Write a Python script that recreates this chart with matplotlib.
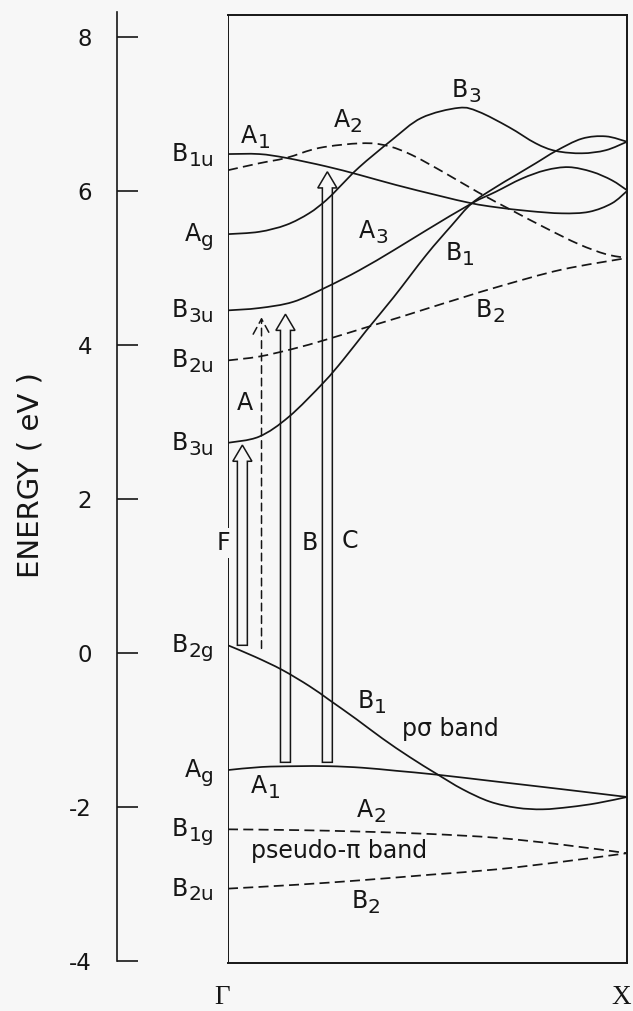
import numpy as np
import matplotlib
matplotlib.use("Agg")
import matplotlib.pyplot as plt
from matplotlib.path import Path
from matplotlib.patches import PathPatch, FancyArrow

plt.rcParams["font.family"] = ["DejaVu Sans"]
plt.rcParams["axes.unicode_minus"] = False
plt.rcParams["lines.scale_dashes"] = False

BG = "#f7f7f7"
INK = "#161616"

# ---------------- band data: k from Gamma (0) to X (1), energy in eV ----------------
# upper (conduction) bands
a1_up_k = [0.0, 0.078, 0.146, 0.246, 0.329, 0.42, 0.528, 0.611, 0.671, 0.754, 0.837, 0.905, 0.962, 1.0]
a1_up_e = [6.48, 6.48, 6.43, 6.32, 6.21, 6.08, 5.94, 5.84, 5.79, 5.74, 5.71, 5.73, 5.84, 6.00]

a2_up_k = [0.0, 0.078, 0.146, 0.229, 0.334, 0.397, 0.46, 0.545, 0.628, 0.711, 0.796, 0.879, 0.947, 1.0]
a2_up_e = [6.27, 6.36, 6.43, 6.56, 6.62, 6.59, 6.47, 6.23, 5.98, 5.75, 5.52, 5.31, 5.18, 5.13]

b3_up_k = [0.0, 0.078, 0.146, 0.203, 0.246, 0.279, 0.329, 0.41, 0.485, 0.578, 0.628, 0.704, 0.771, 0.822, 0.887, 0.947, 1.0]
b3_up_e = [5.44, 5.47, 5.56, 5.71, 5.88, 6.05, 6.31, 6.66, 6.95, 7.08, 7.03, 6.83, 6.62, 6.52, 6.49, 6.53, 6.64]

a3_up_k = [0.0, 0.078, 0.163, 0.246, 0.329, 0.415, 0.497, 0.611, 0.671, 0.736, 0.796, 0.854, 0.912, 0.962, 1.0]
a3_up_e = [4.45, 4.48, 4.56, 4.75, 4.97, 5.23, 5.49, 5.84, 5.99, 6.16, 6.27, 6.31, 6.25, 6.14, 6.01]

b1_up_k = [0.0, 0.078, 0.153, 0.239, 0.289, 0.347, 0.415, 0.497, 0.56, 0.611, 0.671, 0.716, 0.771, 0.822, 0.887, 0.947, 1.0]
b1_up_e = [2.73, 2.81, 3.07, 3.51, 3.81, 4.19, 4.62, 5.17, 5.55, 5.84, 6.05, 6.19, 6.36, 6.52, 6.68, 6.71, 6.64]

b2_up_k = [0.0, 0.078, 0.163, 0.246, 0.347, 0.43, 0.497, 0.59, 0.686, 0.837, 1.0]
b2_up_e = [3.80, 3.85, 3.95, 4.07, 4.23, 4.36, 4.47, 4.62, 4.77, 4.98, 5.13]

# lower (valence) bands
b1_sig_k = [0.0, 0.068, 0.136, 0.204, 0.254, 0.322, 0.387, 0.455, 0.523, 0.588, 0.656, 0.724, 0.789, 0.857, 0.925, 1.0]
b1_sig_e = [0.10, -0.05, -0.22, -0.43, -0.61, -0.86, -1.11, -1.35, -1.57, -1.77, -1.93, -2.01, -2.03, -2.00, -1.95, -1.87]

a1_sig_k = [0.0, 0.085, 0.171, 0.254, 0.337, 0.422, 0.523, 0.673, 0.839, 1.0]
a1_sig_e = [-1.52, -1.48, -1.47, -1.47, -1.49, -1.53, -1.58, -1.67, -1.77, -1.87]

a2_pi_k = [0.0, 0.171, 0.337, 0.505, 0.673, 0.839, 1.0]
a2_pi_e = [-2.29, -2.30, -2.32, -2.35, -2.40, -2.49, -2.60]

b2_pi_k = [0.0, 0.171, 0.337, 0.505, 0.673, 0.839, 1.0]
b2_pi_e = [-3.06, -3.01, -2.95, -2.88, -2.81, -2.71, -2.60]

# optical transitions at Gamma
transition_names = ["F", "A", "B", "C"]
transition_k = [0.036, 0.084, 0.144, 0.249]
transition_from = [0.10, 0.06, -1.42, -1.42]
transition_to = [2.70, 4.36, 4.40, 6.25]
transition_hollow = [True, False, True, True]

energy_ticks = [-4, -2, 0, 2, 4, 6, 8]
kpoint_names = ["Γ", "X"]
kpoint_pos = [0.0, 1.0]

# (k, E, dashed, symmetry label of the level at Gamma or None)
bands = [
    (a1_up_k, a1_up_e, False, "B1u"),
    (a2_up_k, a2_up_e, True, None),
    (b3_up_k, b3_up_e, False, "Ag"),
    (a3_up_k, a3_up_e, False, "B3u"),
    (b2_up_k, b2_up_e, True, "B2u"),
    (b1_up_k, b1_up_e, False, "B3u"),
    (b1_sig_k, b1_sig_e, False, "B2g"),
    (a1_sig_k, a1_sig_e, False, "Ag"),
    (a2_pi_k, a2_pi_e, True, "B1g"),
    (b2_pi_k, b2_pi_e, True, "B2u"),
]


def smooth_path(k, e):
    """Cubic Bezier path passing through every (k, E) point (Catmull-Rom tangents)."""
    pts = np.column_stack([k, e]).astype(float)
    n = len(pts)
    verts = [pts[0]]
    codes = [Path.MOVETO]
    for i in range(n - 1):
        p0 = pts[i - 1] if i > 0 else pts[i]
        p1, p2 = pts[i], pts[i + 1]
        p3 = pts[i + 2] if i + 2 < n else pts[i + 1]
        verts += [p1 + (p2 - p0) / 6.0, p2 - (p3 - p1) / 6.0, p2]
        codes += [Path.CURVE4] * 3
    return Path(verts, codes)


FS = 17
FS_SUB = 14.5
SUB_DROP = 3.5


def sym_label(ax, text, k, e, dx=0.0, dy=0.0, ha="left"):
    """Symmetry label: capital letter followed by a lowered subscript."""
    base, sub = text[0], text[1:]
    kw = dict(textcoords="offset points", va="baseline", annotation_clip=False, color=INK)
    if ha == "left":
        b = ax.annotate(base, (k, e), xytext=(dx, dy), ha="left", fontsize=FS, **kw)
        ax.annotate(sub, (1, e), xycoords=(b, "data"), xytext=(0.3, dy - SUB_DROP),
                    ha="left", fontsize=FS_SUB, **kw)
    else:
        s = ax.annotate(sub, (k, e), xytext=(dx, dy - SUB_DROP), ha="right", fontsize=FS_SUB, **kw)
        ax.annotate(base, (0, e), xycoords=(s, "data"), xytext=(-0.3, dy),
                    ha="right", fontsize=FS, **kw)


fig = plt.figure(figsize=(6.33, 10.11), dpi=100, facecolor=BG)
ax = fig.add_axes([228 / 633, 48 / 1011, 399 / 633, 948 / 1011])
ax.set_facecolor("none")
ax.set_xlim(0, 1)
ax.set_ylim(-4.026, 8.286)

# frame: box around the dispersion, separate energy axis on the left
for side in ("top", "right", "bottom"):
    ax.spines[side].set_linewidth(1.4)
    ax.spines[side].set_color(INK)
ax.spines["left"].set_position(("outward", 80))
ax.spines["left"].set_bounds(-4, 8.32)
ax.spines["left"].set_linewidth(1.2)
ax.spines["left"].set_color(INK)
ax.axvline(0, color=INK, lw=1.4, zorder=2.2)

ax.set_yticks(energy_ticks)
ax.tick_params(axis="y", direction="in", length=15, width=1.2, pad=18,
               labelsize=16.5, colors=INK, right=False)
ax.set_xticks([])
ax.set_ylabel("ENERGY ( eV )", fontsize=21, color=INK)
ax.yaxis.set_label_coords(-0.461, 0.515)

for name, kp in zip(kpoint_names, kpoint_pos):
    ax.annotate(name, (kp, 0), xycoords=("data", "axes fraction"), xytext=(-4.3, -25),
                textcoords="offset points", ha="center", va="center",
                fontsize=19.5, family="Liberation Serif", color=INK, annotation_clip=False)

# bands
for k, e, dashed, sym in bands:
    patch = PathPatch(smooth_path(k, e), fill=False, ec=INK, lw=1.25,
                      ls=(0, (7.2, 3.8)) if dashed else "-", zorder=2,
                      capstyle="butt", joinstyle="round")
    ax.add_patch(patch)
    if sym:
        sym_label(ax, sym, 0.0, e[0], dx=-10, dy=-5, ha="right")

# transitions
for kx, e0, e1, hollow in zip(transition_k, transition_from, transition_to, transition_hollow):
    if hollow:
        ax.add_patch(FancyArrow(kx, e0, 0, e1 - e0, width=0.025, head_width=0.048,
                                head_length=0.21, length_includes_head=True,
                                fc="none", ec=INK, lw=1.1, zorder=3))
    else:
        ax.annotate("", xy=(kx, e1), xytext=(kx, e0),
                    arrowprops=dict(arrowstyle="->,head_length=1.1,head_width=0.6",
                                    ls=(0, (5.5, 3.5)), lw=1.1, color=INK,
                                    shrinkA=0, shrinkB=0), zorder=3)

# band / transition annotations inside the box
inner_labels = [
    ("A1", 0.033, 6.62), ("A2", 0.264, 6.83), ("B3", 0.56, 7.22),
    ("A3", 0.327, 5.39), ("B1", 0.545, 5.10), ("B2", 0.62, 4.36),
    ("B1", 0.324, -0.71), ("A1", 0.058, -1.82), ("A2", 0.322, -2.13),
    ("B2", 0.309, -3.31),
]
for text, kx, ey in inner_labels:
    sym_label(ax, text, kx, ey)

ax.text(0.435, -1.08, "pσ band", fontsize=FS, color=INK, va="baseline")
ax.text(0.058, -2.66, "pseudo-π band", fontsize=FS, color=INK, va="baseline")

label_pos = {"F": (-0.029, 1.34), "A": (0.023, 3.16), "B": (0.185, 1.34), "C": (0.285, 1.36)}
for name in transition_names:
    kx, ey = label_pos[name]
    ax.text(kx, ey, name, fontsize=FS, color=INK, va="baseline", zorder=4,
            bbox=dict(boxstyle="square,pad=0.12", fc=BG, ec="none") if name == "F" else None)

fig.savefig("out.png", dpi=100, facecolor=BG)
